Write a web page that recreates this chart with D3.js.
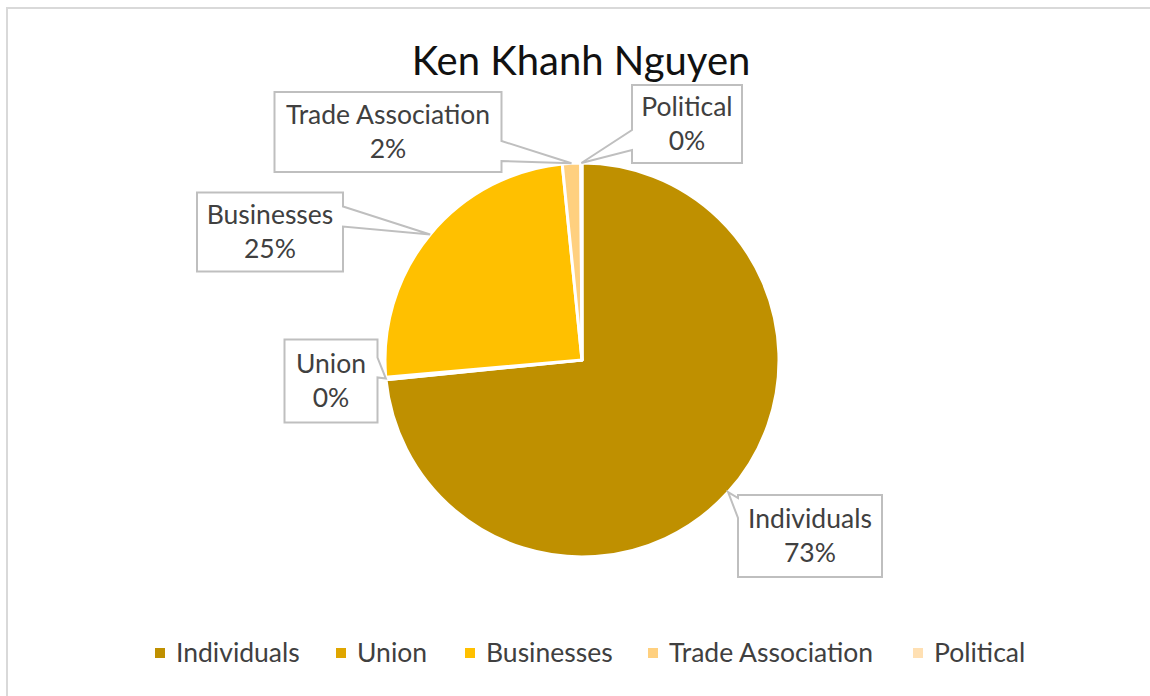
<!DOCTYPE html>
<html><head><meta charset="utf-8">
<script src="https://cdn.jsdelivr.net/npm/d3@7"></script>
<style>body{margin:0;background:#fff;} svg{display:block;}</style>
</head><body>
<svg id="chart" width="1150" height="696"></svg>
<script>
const title = "Ken Khanh Nguyen";
const categories = ["Individuals", "Union", "Businesses", "Trade Association", "Political"];
const values = [73.4, 0.2, 24.8, 1.5, 0.1];
const colors = ["#BF9000", "#DFA600", "#FFC000", "#FFD07F", "#FFE0B3"];

// label box layout (box centre, size, wedge side & base start offset)
const labelLayout = [
  {cx: 810, cy: 536, w: 144, h: 82, side: "left", base: 3},
  {cx: 331, cy: 381, w: 93, h: 83, side: "right", base: 18},
  {cx: 270, cy: 232, w: 146, h: 79, side: "right", base: 14},
  {cx: 388, cy: 132, w: 227, h: 80, side: "right", base: 49},
  {cx: 687, cy: 124, w: 110, h: 78, side: "left", base: 45}
];

const W = 1150, H = 696;
const svg = d3.select("#chart");
const font = "Lato, 'Open Sans', sans-serif";

// chart border
svg.append("rect").attr("x", 7).attr("y", 8).attr("width", W).attr("height", H)
  .attr("fill", "none").attr("stroke", "#d9d9d9").attr("stroke-width", 2);

svg.append("text").attr("x", 581).attr("y", 75).attr("text-anchor", "middle")
  .attr("font-family", font).attr("font-size", 40).attr("fill", "#111").text(title);

const cx = 582, cy = 360, r = 197;
const data = categories.map((c, i) => ({cat: c, value: values[i], color: colors[i]}));
const pie = d3.pie().value(d => d.value).sort(null);
const arcs = pie(data);
const arc = d3.arc().innerRadius(0).outerRadius(r);
const g = svg.append("g").attr("transform", `translate(${cx},${cy})`);
g.selectAll("path").data(arcs).join("path")
  .attr("d", arc).attr("fill", d => d.data.color)
  .attr("stroke", "#fff").attr("stroke-width", 3).attr("stroke-linejoin", "round");

const total = d3.sum(values);
const fmt = v => Math.round(v / total * 100) + "%";

arcs.forEach((a, i) => {
  const L = labelLayout[i];
  const mid = (a.startAngle + a.endAngle) / 2;
  const tx = cx + r * Math.sin(mid), ty = cy - r * Math.cos(mid);
  const x0 = L.cx - L.w / 2, x1 = L.cx + L.w / 2, y0 = L.cy - L.h / 2, y1 = L.cy + L.h / 2;
  const b0 = y0 + L.base, b1 = b0 + 20;
  let p;
  if (L.side === "right") {
    p = `M${x0},${y0}L${x1},${y0}L${x1},${b0}L${tx},${ty}L${x1},${b1}L${x1},${y1}L${x0},${y1}Z`;
  } else {
    p = `M${x0},${y0}L${x0},${b0}L${tx},${ty}L${x0},${b1}L${x0},${y1}L${x1},${y1}L${x1},${y0}Z`;
  }
  svg.append("path").attr("d", p).attr("fill", "#fff").attr("stroke", "#bfbfbf").attr("stroke-width", 2);
  const t = svg.append("text").attr("text-anchor", "middle").attr("font-family", font)
    .attr("font-size", 26.5).attr("fill", "#404040");
  t.append("tspan").attr("x", L.cx).attr("y", L.cy - 17).attr("dy", "0.35em").text(a.data.cat);
  t.append("tspan").attr("x", L.cx).attr("y", L.cy + 17).attr("dy", "0.35em").text(fmt(a.data.value));
});

// legend
const legendX = [155, 336, 465, 648, 913];
const lg = svg.append("g");
data.forEach((d, i) => {
  lg.append("rect").attr("x", legendX[i]).attr("y", 648).attr("width", 10).attr("height", 10).attr("fill", d.color);
  lg.append("text").attr("x", legendX[i] + 21).attr("y", 653).attr("dy", "0.35em")
    .attr("font-family", font).attr("font-size", 26.5).attr("fill", "#404040").text(d.cat);
});
</script>
</body></html>
